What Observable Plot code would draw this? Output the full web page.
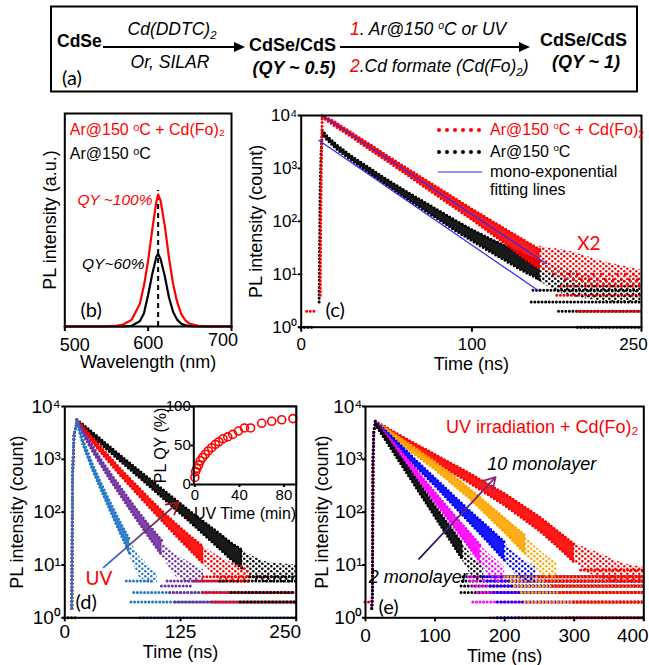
<!DOCTYPE html>
<html><head><meta charset="utf-8">
<script src="https://cdn.jsdelivr.net/npm/d3@7"></script>
<script src="https://cdn.jsdelivr.net/npm/@observablehq/plot@0.6"></script>
<style>
html,body{margin:0;padding:0;background:#fff;}
#root{position:relative;width:649px;height:665px;overflow:hidden;background:#fff;font-family:"Liberation Sans",Arial,sans-serif;color:#000;}
.a{position:absolute;white-space:nowrap;line-height:1;}
.a sup{font-size:0.6em;vertical-align:0.6em;line-height:0;}
.a sub{font-size:0.65em;vertical-align:-0.3em;line-height:0;}
.panel{position:absolute;}
.panel svg{overflow:visible;}
</style></head><body>
<svg width="0" height="0" style="position:absolute">
<defs id="globalDefs"></defs>
</svg>
<div id="root"></div>
<script>
// ---------------- DATA ----------------
// (b) PL spectra
const wavelength = [500,540,560,570,580,590,595,600,605,610,612,615,620,625,630,635,640,645,650,660,670,680,700];
const plRed   = [0,0,0.004,0.015,0.05,0.17,0.31,0.50,0.74,0.95,1.0,0.95,0.76,0.52,0.32,0.18,0.09,0.045,0.02,0.005,0,0,0];
const plBlack = [0,0,0,0,0.005,0.04,0.10,0.24,0.40,0.53,0.55,0.51,0.38,0.22,0.11,0.05,0.02,0.008,0.003,0,0,0,0];
const peakNm = 612, peakLineTop = 1.03;
const bTicks = [500,600,700];

// (c) decays: [time ns, low count, high count]; tails = scattered cloud near the noise floor
const cRed = [[12.3,9300,10000],[20,6250,7500],[30,3830,4600],[40,2290,2880],[50,1400,1770],[60,840,1100],[70,500,690],[80,300,435],[90,180,272],[100,108,171],[110,63,109],[120,37,70],[130,21,45],[140,12.6,29]];
const cRedTail = [[138,14,34],[150,9,30],[160,7,26],[175,6,18],[190,6,14],[199,6,12]];
const cBlack = [[12.3,4570,5250],[15,3510,4120],[21,2290,2750],[30,1380,1660],[40,813,1023],[50,484,624],[60,292,394],[70,180,254],[80,111,164],[90,68,106],[100,43,70],[110,27.5,47.9],[120,17.8,33.9],[130,11.5,24],[140,7.8,17.8]];
const cBlackTail = [[138,8,19],[150,4.5,14],[165,3.5,10],[180,3,8],[199,3,8]];
const cRedRise = [[11.2,4],[11.3,20],[11.6,300],[12,3000],[12.3,9300]];
const cBlackRise = [[10.5,3],[10.7,20],[11,300],[11.6,2000],[12.3,4570]];
const cFitRed = [[12.3,10000],[143.8,15.8]];
const cFitBlack = [[10.3,3390],[139,4.9]];
// noise floor rows: [count level, from ns, to ns]
const cFloorBlack = [[1,0,8],[1,162,199],[2,151,199],[3,135,199],[5,136,199]];
const cFloorRed = [[2,3.5,9.4],[2,163,199],[4,150,199],[6,152,199]];
const cSparseRed = [[8,155,199],[10,148,199]];
const cTicks = [0,100,199.3], cTickLabels = ["0","100","250"];

// (d) UV irradiation series
const dBlack = [[13,4900,5620],[20,3850,4520],[30,2690,3240],[40,1880,2320],[50,1320,1660],[60,923,1190],[75,550,724],[90,324,447],[105,191,275],[120,112,170],[135,66,105],[150,38,66],[165,22,42],[180,12.6,26],[192,8.5,19]];
const dBlackTail = [[190,8,20],[205,5,14],[220,4.5,11],[250,4.5,10]];
const dRed = [[13,4900,5620],[20,3510,4120],[30,2090,2510],[40,1290,1620],[50,804,1035],[60,501,661],[75,257,355],[90,132,191],[105,69,105],[120,36,60],[135,19.5,35.5],[150,10.5,21.9]];
const dRedTail = [[148,11,23],[165,5.5,15],[180,4.5,11],[200,4.5,9]];
const dPurple = [[13,4900,5620],[20,2920,3430],[30,1430,1760],[40,733,944],[50,385,519],[60,211,299],[75,85,129],[90,35.5,59],[105,15.1,28.8]];
const dPurpleTail = [[103,16,30],[120,6,16],[135,4.5,11],[150,4.5,8]];
const dBlue = [[13,4900,5620],[20,1820,2190],[30,631,794],[40,245,324],[50,98,141],[60,39.8,63],[70,16.6,30.2]];
const dBlueTail = [[68,18,34],[80,6,15],[90,4.5,10],[100,4.5,7]];
const dRise = [[7.6,1.5],[7.9,20],[8.4,500],[10,3000],[13,4900]];
const dFloorBlue = [[5,67,96],[3,75,250],[2,72,250],[1,82,250]];
const dFloorPurple = [[5,111,175],[4,105,140],[3,114,250],[2,120,250]];
const dFloorRed = [[6,150,230],[5,140,200],[3,150,250],[2,160,250]];
const dFloorBlack = [[6,200,250],[5,168,250],[3,180,250],[2,190,250],[1,0,12]];
const dTicks = [0,125,250];
const uvArrowD = [{t1:42,c1:9,t2:123,c2:155}];
// inset: PL QY vs UV time
const uvTime = [0,0.6,1.8,3.3,4.8,6.9,9.3,12,15,18.3,21.6,25.2,29.5,34,39,44.5,50,60,69,78,88];
const plQY   = [9,16.5,20.7,24.9,30.4,34.6,38.8,43,47.2,51.5,54.8,58.6,61.1,64.2,68.5,72.5,72.5,78.5,81,83,84.5];

// (e) shell thickness series
const eRed = [[14,4570,5250],[25,3630,4370],[50,2239,2818],[100,891,1230],[150,355,537],[200,135,224],[250,44.7,81.3],[280,20,39.8],[300,11.2,24.5]];
const eRedTail = [[298,12,27],[320,7,20],[340,5.5,16],[360,4.5,12],[380,4.5,10],[400,4.5,9]];
const eOrange = [[14,4570,5250],[25,3470,4170],[50,1995,2512],[100,646,891],[150,182,275],[200,41.7,75.9],[230,16.2,35.5]];
const eOrangeTail = [[228,17,37],[245,8,22],[260,6,15],[275,4.5,11]];
const eBlue = [[14,4570,5250],[25,3240,3890],[50,1479,1862],[75,676,891],[100,316,437],[125,141,214],[150,63,105],[175,28.2,53.7],[200,12.3,26.9]];
const eBlueTail = [[198,13,28],[215,6.5,17],[230,4.5,12],[245,4.5,9]];
const eMagenta = [[14,4570,5250],[25,2950,3550],[50,1096,1445],[75,417,575],[100,155,234],[125,57.5,95.5],[150,20.9,39.8],[165,11.2,23.4]];
const eMagentaTail = [[163,12,25],[178,6,16],[190,4.5,12],[200,4.5,9]];
const eBlack = [[14,4570,5250],[25,2750,3310],[50,851,1122],[75,263,380],[100,81,129],[125,25.1,45.7],[140,12.3,24.5]];
const eBlackTail = [[138,13,26],[150,7,17],[160,5,12],[170,4.5,9]];
const eRise = [[9,1.5],[10,3],[10.3,30],[10.8,1000],[12,3500],[14,4570]];
const eFloorBlack = [[6,141,400],[5,140,400],[4,138,400],[3,138,400]];
const eFloorMagenta = [[6,148,400],[5,150,400],[4,155,400],[3,162,400],[2,155,400],[1,180,400]];
const eFloorBlue = [[6,170,400],[5,175,400],[4,180,400],[3,185,400],[2,190,400],[1,190,400]];
const eFloorOrange = [[6,200,400],[5,210,400],[4,215,400],[3,225,400],[2,230,400],[1,225,400]];
const eFloorRed = [[8,310,400],[6,250,400],[5,260,400],[4,270,400],[3,280,400],[2,300,400],[2,0,9],[1,290,400]];
const eTicks = [0,100,200,300,400];
const monoArrowE = [{t1:77,c1:13,t2:187,c2:460}];

// ---------------- STYLE / HELPERS ----------------
const FONT = '"Liberation Sans", Arial, Helvetica, sans-serif';
const LETTER = 'Lato, "Open Sans", sans-serif';
const RED = "#ff0000", FITBLUE = "#2b2bff", PURPLE = "#7030a0", DBLUE = "#2478c8";
const MAGENTA = "#ff00ff", EBLUE = "#0000ff", ORANGE = "#ffa500";
const sup = ["⁰","¹","²","³","⁴"];
const logFmt = d => "10" + sup[Math.round(Math.log10(d))];
const logTicks = [1,10,100,1000,10000];
const root = document.getElementById("root");

// dotted textures (scattered photon-count clouds) and arrow gradients (shared defs)
const patColors = {red: RED, black: "#000", purple: PURPLE, dblue: DBLUE, magenta: MAGENTA, eblue: EBLUE, orange: ORANGE};
let defsHTML = "";
for (const [k, c] of Object.entries(patColors)) {
  defsHTML += `<pattern id="pat-${k}" width="6" height="5" patternUnits="userSpaceOnUse"><circle cx="1.3" cy="1.2" r="1.25" fill="${c}"/><circle cx="4.3" cy="3.7" r="1.25" fill="${c}"/></pattern>`;
}
defsHTML += `<linearGradient id="gradD" x1="0" y1="1" x2="1" y2="0"><stop offset="0" stop-color="#2f6fe0"/><stop offset="1" stop-color="#9a1414"/></linearGradient>`;
defsHTML += `<linearGradient id="gradE" x1="0" y1="1" x2="1" y2="0"><stop offset="0" stop-color="#1a1a66"/><stop offset="1" stop-color="#8e2a7a"/></linearGradient>`;
document.getElementById("globalDefs").innerHTML = defsHTML;

const dotted = (c, w = 3, gap = 3.6) => ({stroke: c, strokeWidth: w, strokeDasharray: `0 ${gap}`, strokeLinecap: "round"});
function band(data, tail, rise, c, key) {
  return [
    Plot.areaY(tail, {x: d => d[0], y1: d => d[1], y2: d => d[2], fill: `url(#pat-${key})`}),
    Plot.areaY(data, {x: d => d[0], y1: d => d[1], y2: d => d[2], fill: c, fillOpacity: 0.9}),
    Plot.line(data, {x: d => d[0], y: d => d[1], ...dotted(c)}),
    Plot.line(data, {x: d => d[0], y: d => d[2], ...dotted(c)}),
    Plot.line(rise, {x: d => d[0], y: d => d[1], ...dotted(c)})
  ];
}
const floor = (rows, c, gap = 3.6) => Plot.ruleY(rows, {y: d => d[0], x1: d => d[1], x2: d => d[2], ...dotted(c, 3, gap)});
const T = (s, o) => Plot.text([s], {text: d => d, fontFamily: FONT, textAnchor: "middle", lineAnchor: "middle", ...o});
// x tick labels as text marks so individual labels can be nudged like in the original
const xLabels = (vals, labels, dy, fs, shifts = {}) => vals.map((v, i) =>
  Plot.text([labels[i]], {x: () => v, text: d => d, frameAnchor: "bottom", dy: dy + (shifts[i] ? shifts[i][1] : 0), dx: shifts[i] ? shifts[i][0] : 0, fontSize: fs, fontFamily: FONT, textAnchor: "middle", lineAnchor: "middle"}));
const xTickMarks = (vals, size) => Plot.axisX({ticks: vals, tickFormat: () => "", tickSize: size, label: null, strokeWidth: 2});
const baseStyle = fs => ({fontFamily: FONT, fontSize: fs + "px", background: "transparent", overflow: "visible", color: "#000"});
function mount(node, left, top) {
  const w = document.createElement("div");
  w.className = "panel"; w.style.left = left + "px"; w.style.top = top + "px";
  w.appendChild(node); root.appendChild(w); return node;
}
function put(html, x, y, css = "", ax = 0) {
  const d = document.createElement("div");
  d.className = "a";
  d.style.cssText = `left:${x}px;top:${y}px;transform:translate(${-ax * 100}%,-50%);${css}`;
  d.innerHTML = html; root.appendChild(d);
}
function hArrow(x1, x2, y) {
  const l = document.createElement("div"); l.className = "a";
  l.style.cssText = `left:${x1}px;top:${y - 1}px;width:${x2 - x1 - 8}px;height:2px;background:#000;`;
  root.appendChild(l);
  const h = document.createElement("div"); h.className = "a";
  h.style.cssText = `left:${x2 - 11}px;top:${y - 5}px;width:0;height:0;border-left:11px solid #000;border-top:5px solid transparent;border-bottom:5px solid transparent;`;
  root.appendChild(h);
}

// ---------------- (b) ----------------
const spec = wavelength.map((w, i) => ({w, red: plRed[i], black: plBlack[i]}));
mount(Plot.plot({
  width: 260, height: 270, marginLeft: 64.3, marginRight: 29, marginTop: 8, marginBottom: 49,
  style: baseStyle(18),
  x: {domain: [500, 700]}, y: {domain: [0, 1.613], axis: null},
  marks: [
    Plot.ruleX([peakNm], {y1: 0, y2: peakLineTop, stroke: "#000", strokeWidth: 2, strokeDasharray: "5 4"}),
    Plot.line(spec, {x: "w", y: "black", stroke: "#000", strokeWidth: 2.2}),
    Plot.line(spec, {x: "w", y: "red", stroke: RED, strokeWidth: 2.2}),
    xTickMarks(bTicks, 5),
    ...xLabels(bTicks, bTicks.map(String), 17, 18, {0: [10, 2], 2: [-8.5, -3]}),
    Plot.frame({stroke: "#000", strokeWidth: 2}),
    T("PL intensity (a.u.)", {frameAnchor: "left", dx: -14.6, rotate: -90, fontSize: 18}),
    T("Wavelength (nm)", {frameAnchor: "bottom", dy: 35.7, fontSize: 18}),
    T("Ar@150 ᵒC + Cd(Fo)₂", {frameAnchor: "top-left", dx: 5, dy: 16, textAnchor: "start", fontSize: 16, fill: RED}),
    T("Ar@150 ᵒC", {frameAnchor: "top-left", dx: 5, dy: 40, textAnchor: "start", fontSize: 16}),
    T("QY ~100%", {frameAnchor: "top-left", dx: 87.7, dy: 87, textAnchor: "end", fontSize: 15.5, fontStyle: "italic", fill: RED}),
    T("QY~60%", {frameAnchor: "top-left", dx: 79.7, dy: 150.3, textAnchor: "end", fontSize: 15.5, fontStyle: "italic"}),
    T("(b)", {frameAnchor: "top-left", dx: 15.7, dy: 197, textAnchor: "start", fontSize: 20, fontFamily: LETTER})
  ]
}), 0, 105);

// ---------------- (c) ----------------
mount(Plot.plot({
  width: 404, height: 270, marginLeft: 55.7, marginRight: 8, marginTop: 10, marginBottom: 48.3,
  style: baseStyle(17),
  x: {domain: [0, 199.3]}, y: {type: "log", domain: [1, 1e4]},
  marks: [
    floor(cFloorBlack, "#000"), floor(cFloorRed, RED), floor(cSparseRed, RED, 8),
    ...band(cBlack, cBlackTail, cBlackRise, "#000", "black"), ...band(cRed, cRedTail, cRedRise, RED, "red"),
    Plot.line(cFitBlack, {x: d => d[0], y: d => d[1], stroke: FITBLUE, strokeWidth: 1.2}),
    Plot.line(cFitRed, {x: d => d[0], y: d => d[1], stroke: FITBLUE, strokeWidth: 1.2}),
    xTickMarks(cTicks, 5),
    ...xLabels(cTicks, cTickLabels, 17.5, 17, {2: [-8, 0]}),
    Plot.axisY({ticks: logTicks, tickFormat: logFmt, tickSize: 3, tickPadding: 1, label: null, strokeWidth: 2}),
    Plot.frame({stroke: "#000", strokeWidth: 2}),
    T("PL intensity (count)", {frameAnchor: "left", dx: -44.7, rotate: -90, fontSize: 18}),
    T("Time (ns)", {frameAnchor: "bottom", dy: 36.6, fontSize: 18}),
    T("X2", {frameAnchor: "top-left", dx: 276, dy: 128.3, textAnchor: "start", fontSize: 19, fontFamily: LETTER, fill: RED}),
    T("(c)", {frameAnchor: "top-left", dx: 24.3, dy: 195, textAnchor: "start", fontSize: 20, fontFamily: LETTER})
  ]
}), 245, 105);

// ---------------- (d) ----------------
mount(Plot.plot({
  width: 320, height: 280, marginLeft: 64.3, marginRight: 24.3, marginTop: 21, marginBottom: 47.7,
  style: baseStyle(19),
  x: {domain: [0, 250]}, y: {type: "log", domain: [1, 1e4]},
  marks: [
    floor(dFloorBlue, DBLUE), floor(dFloorPurple, PURPLE), floor(dFloorRed, RED), floor(dFloorBlack, "#000"),
    ...band(dBlack, dBlackTail, dRise, "#000", "black"), ...band(dRed, dRedTail, dRise, RED, "red"),
    ...band(dPurple, dPurpleTail, dRise, PURPLE, "purple"), ...band(dBlue, dBlueTail, dRise, DBLUE, "dblue"),
    Plot.arrow(uvArrowD, {x1: "t1", y1: "c1", x2: "t2", y2: "c2", stroke: "url(#gradD)", strokeWidth: 1.8, headLength: 11}),
    xTickMarks(dTicks, 4),
    ...xLabels(dTicks, dTicks.map(String), 14.4, 19, {2: [-11, 0]}),
    Plot.axisY({ticks: logTicks, tickFormat: logFmt, tickSize: 3, tickPadding: 1, label: null, strokeWidth: 2}),
    Plot.frame({stroke: "#000", strokeWidth: 2}),
    T("PL intensity (count)", {frameAnchor: "left", dx: -47.3, rotate: -90, fontSize: 18}),
    T("Time (ns)", {frameAnchor: "bottom", dy: 34.4, fontSize: 18}),
    T("UV", {frameAnchor: "top-left", dx: 20.7, dy: 172.3, textAnchor: "start", fontSize: 19, fontFamily: LETTER, fill: RED}),
    T("(d)", {frameAnchor: "top-left", dx: 10.7, dy: 195.7, textAnchor: "start", fontSize: 20, fontFamily: LETTER})
  ]
}), 0, 385);

// inset
const qy = uvTime.map((t, i) => ({t, q: plQY[i]}));
mount(Plot.plot({
  width: 165, height: 130, marginLeft: 53.3, marginRight: 9.3, marginTop: 11, marginBottom: 41,
  style: baseStyle(15),
  x: {domain: [-1, 91]}, y: {domain: [0, 100]},
  marks: [
    Plot.frame({fill: "#fff", stroke: "none"}),
    Plot.dot(qy, {x: "t", y: "q", r: 4, stroke: RED, strokeWidth: 1.6, fill: "none"}),
    Plot.axisX({ticks: [0, 40, 80], tickSize: 3, tickPadding: 2, label: null, strokeWidth: 2}),
    Plot.axisY({ticks: [0, 50, 100], tickSize: 3, tickPadding: 0, label: null, strokeWidth: 2}),
    Plot.frame({stroke: "#000", strokeWidth: 2}),
    T("PL QY (%)", {frameAnchor: "left", dx: -33.3, rotate: -90, fontSize: 16}),
    T("UV Time (min)", {frameAnchor: "bottom", dy: 29, fontSize: 16})
  ]
}), 140, 395);

// ---------------- (e) ----------------
mount(Plot.plot({
  width: 344, height: 280, marginLeft: 60, marginRight: 5.7, marginTop: 21, marginBottom: 47.7,
  style: baseStyle(19),
  x: {domain: [0, 400]}, y: {type: "log", domain: [1, 1e4]},
  marks: [
    floor(eFloorBlack, "#000"), floor(eFloorMagenta, MAGENTA), floor(eFloorBlue, EBLUE), floor(eFloorOrange, ORANGE), floor(eFloorRed, RED),
    ...band(eRed, eRedTail, eRise, RED, "red"), ...band(eOrange, eOrangeTail, eRise, ORANGE, "orange"),
    ...band(eBlue, eBlueTail, eRise, EBLUE, "eblue"), ...band(eMagenta, eMagentaTail, eRise, MAGENTA, "magenta"),
    ...band(eBlack, eBlackTail, eRise, "#000", "black"),
    Plot.arrow(monoArrowE, {x1: "t1", y1: "c1", x2: "t2", y2: "c2", stroke: "url(#gradE)", strokeWidth: 1.8, headLength: 11}),
    xTickMarks(eTicks, 4),
    ...xLabels(eTicks, eTicks.map(String), 18.5, 19, {4: [-11, 0]}),
    Plot.axisY({ticks: logTicks, tickFormat: logFmt, tickSize: 3, tickPadding: 0, label: null, strokeWidth: 2}),
    Plot.frame({stroke: "#000", strokeWidth: 2}),
    T("PL intensity (count)", {frameAnchor: "left", dx: -43, rotate: -90, fontSize: 18}),
    T("Time (ns)", {frameAnchor: "bottom", dy: 38.5, fontSize: 18}),
    T("UV irradiation + Cd(Fo)₂", {frameAnchor: "top-right", dx: -5.3, dy: 20.7, textAnchor: "end", fontSize: 18, fill: RED}),
    T("10 monolayer", {frameAnchor: "top-left", dx: 121.7, dy: 57.3, textAnchor: "start", fontSize: 18, fontStyle: "italic"}),
    T("2 monolayer", {frameAnchor: "top-left", dx: 3.3, dy: 170.7, textAnchor: "start", fontSize: 18, fontStyle: "italic"}),
    T("(e)", {frameAnchor: "top-left", dx: 13, dy: 200.7, textAnchor: "start", fontSize: 20, fontFamily: LETTER})
  ]
}), 305, 385);

// ---------------- (c) legend (HTML) ----------------
put("", 436.7, 130, "width:44px;border-top:4px dotted " + RED + ";");
put("", 436.7, 151.7, "width:44px;border-top:4px dotted #000;");
put("", 438, 171.7, "width:44px;border-top:1.2px solid " + FITBLUE + ";");
put("Ar@150 <sup>o</sup>C + Cd(Fo)<sub>2</sub>", 490, 130, "font-size:16px;color:" + RED);
put("Ar@150 <sup>o</sup>C", 490, 151.7, "font-size:16px;");
put("mono-exponential", 490, 171.7, "font-size:16px;");
put("fitting lines", 490, 190, "font-size:16px;");

// ---------------- (a) scheme ----------------
put("", 50, 48.5, "width:588px;height:87px;border:2px solid #000;box-sizing:border-box;");
put("CdSe", 57, 42, "font-weight:bold;font-size:17.5px;");
hArrow(103, 245, 47);
put("<i>Cd(DDTC)<sub>2</sub></i>", 172, 30, "font-size:17.5px;", 0.5);
put("<i>Or, SILAR</i>", 170, 63, "font-size:17.5px;", 0.5);
put("CdSe/CdS", 249, 45, "font-weight:bold;font-size:18px;");
put("<b><i>(QY ~ 0.5)</i></b>", 294, 68, "font-size:18px;", 0.5);
hArrow(340, 530, 47);
put('<i><span style="color:#f00">1</span>. Ar@150 <sup>o</sup>C or UV</i>', 350, 30, "font-size:17.5px;");
put('<i><span style="color:#f00">2</span>.Cd formate (Cd(Fo)<sub>2</sub>)</i>', 350, 67, "font-size:17.5px;");
put("CdSe/CdS", 540, 40, "font-weight:bold;font-size:18px;");
put("<b><i>(QY ~ 1)</i></b>", 586, 62, "font-size:18px;", 0.5);
put("(a)", 62, 77, "font-family:Lato,'Open Sans',sans-serif;font-size:20px;");
</script></body></html>
